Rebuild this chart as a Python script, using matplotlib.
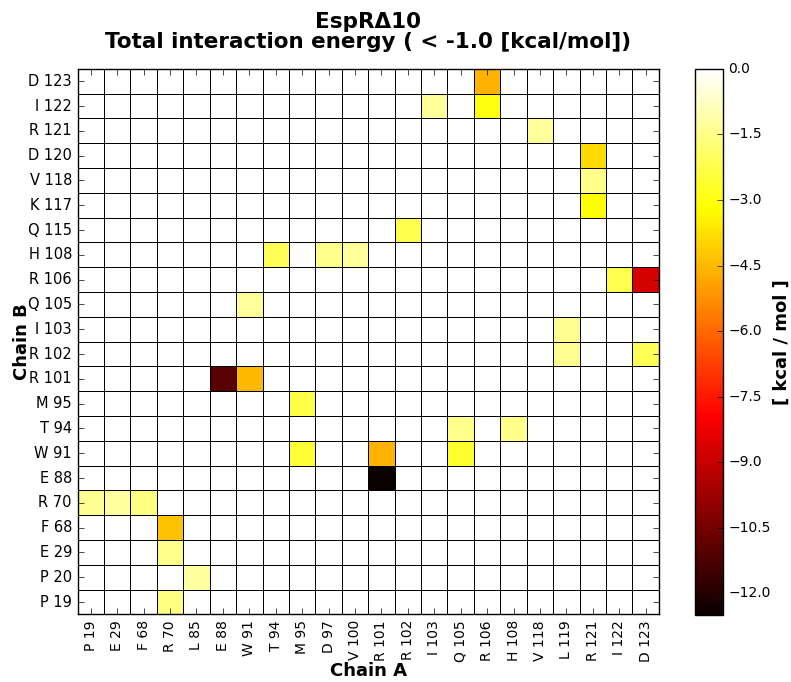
import numpy as np
import matplotlib
matplotlib.use('Agg')
import matplotlib.pyplot as plt

chain_a = ['P 19', 'E 29', 'F 68', 'R 70', 'L 85', 'E 88', 'W 91', 'T 94',
           'M 95', 'D 97', 'V 100', 'R 101', 'R 102', 'I 103', 'Q 105',
           'R 106', 'H 108', 'V 118', 'L 119', 'R 121', 'I 122', 'D 123']
# chain B, bottom to top
chain_b = ['P 19', 'P 20', 'E 29', 'F 68', 'R 70', 'E 88', 'W 91', 'T 94',
           'M 95', 'R 101', 'R 102', 'I 103', 'Q 105', 'R 106', 'H 108',
           'Q 115', 'K 117', 'V 118', 'D 120', 'R 121', 'I 122', 'D 123']

# (chain A residue, chain B residue, energy in kcal/mol)
pair_a = ['R 106', 'I 103', 'R 106', 'V 118', 'R 121', 'R 121', 'R 121',
          'R 102', 'T 94', 'D 97', 'V 100', 'I 122', 'D 123', 'W 91',
          'L 119', 'L 119', 'D 123', 'E 88', 'W 91', 'M 95', 'Q 105',
          'H 108', 'M 95', 'R 101', 'Q 105', 'R 101', 'P 19', 'E 29',
          'F 68', 'R 70', 'R 70', 'L 85', 'R 70']
pair_b = ['D 123', 'I 122', 'I 122', 'R 121', 'D 120', 'V 118', 'K 117',
          'Q 115', 'H 108', 'H 108', 'H 108', 'R 106', 'R 106', 'Q 105',
          'I 103', 'R 102', 'R 102', 'R 101', 'R 101', 'M 95', 'T 94',
          'T 94', 'W 91', 'W 91', 'W 91', 'E 88', 'R 70', 'R 70',
          'R 70', 'F 68', 'E 29', 'P 20', 'P 19']
energy = [-4.6, -1.3, -3.0, -1.3, -3.9, -1.5, -3.2,
          -2.2, -2.1, -1.5, -1.3, -2.2, -8.7, -1.3,
          -1.4, -1.4, -2.1, -11.0, -4.5, -2.3, -1.5,
          -1.5, -2.5, -4.6, -2.6, -12.5, -1.4, -1.2,
          -1.6, -4.3, -1.5, -1.2, -1.6]

grid = np.zeros((len(chain_b), len(chain_a)))
for a, b, e in zip(pair_a, pair_b, energy):
    grid[chain_b.index(b), chain_a.index(a)] = e

plt.style.use('classic')
plt.rcParams['font.family'] = 'DejaVu Sans'
fig = plt.figure(figsize=(7.91, 6.82), dpi=100, facecolor='white')
ax = fig.add_axes([0.098, 0.099, 0.735, 0.800])
cax = fig.add_axes([0.879, 0.098, 0.035, 0.801])

mesh = ax.pcolormesh(grid, cmap='hot', vmin=-12.5, vmax=0.0,
                     edgecolors='k', linewidth=0.5)
ax.set_xlim(0, len(chain_a))
ax.set_ylim(0, len(chain_b))
ax.set_xticks(np.arange(len(chain_a)) + 0.5)
ax.set_yticks(np.arange(len(chain_b)) + 0.5)
ax.set_xticklabels(chain_a, rotation=90, fontsize=10)
ax.set_yticklabels(chain_b, fontsize=10.5)
ax.tick_params(length=4)
ax.set_xlabel('Chain A', fontsize=13, fontweight='bold', labelpad=0)
ax.set_ylabel('Chain B', fontsize=13, fontweight='bold', labelpad=-2)
ax.set_title('EspRΔ10\nTotal interaction energy ( < -1.0 [kcal/mol])',
             fontsize=15.5, fontweight='bold', linespacing=1.0, y=1.025)

cb = fig.colorbar(mesh, cax=cax, ticks=np.arange(0.0, -12.1, -1.5))
cb.ax.tick_params(labelsize=10)
cb.set_label('[ kcal / mol ]', fontsize=13, fontweight='bold', labelpad=1)
cb.outline.set_linewidth(1.0)

fig.savefig('out.png', dpi=100, facecolor='white')
